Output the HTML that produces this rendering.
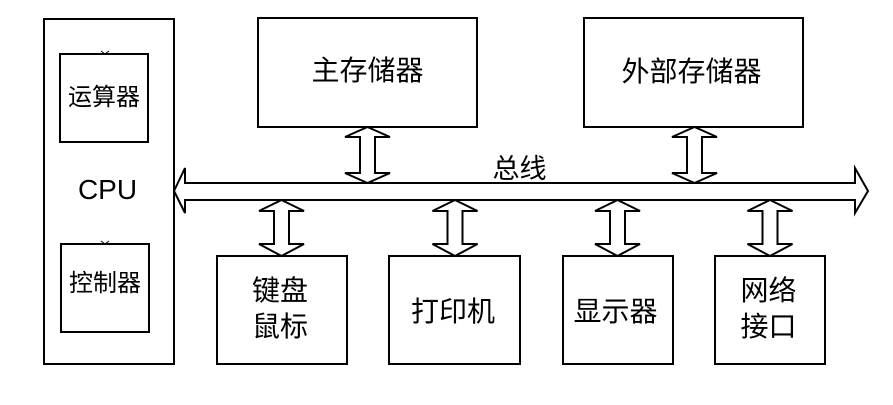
<!DOCTYPE html>
<html>
<head>
<meta charset="utf-8">
<style>
  html,body{margin:0;padding:0;background:#fff;}
  svg{display:block;}
  .cjk{font-family:"Liberation Sans","Noto Sans CJK SC","WenQuanYi Zen Hei",sans-serif;fill:#000;}
</style>
</head>
<body>
<svg width="893" height="405" viewBox="0 0 893 405" xmlns="http://www.w3.org/2000/svg">
  <rect x="0" y="0" width="893" height="405" fill="#fff"/>
  <g fill="#fff" stroke="#000" stroke-width="2">
    <!-- CPU -->
    <rect x="44" y="19" width="130" height="345"/>
    <rect x="60" y="54" width="88" height="88"/>
    <rect x="61" y="244" width="88" height="88"/>
    <!-- top boxes -->
    <rect x="258" y="18" width="219" height="109"/>
    <rect x="584" y="18" width="219" height="109"/>
    <!-- bottom boxes -->
    <rect x="217" y="256" width="130" height="108"/>
    <rect x="389" y="256" width="131" height="108"/>
    <rect x="563" y="256" width="110" height="108"/>
    <rect x="715" y="256" width="110" height="108"/>
    <!-- bus -->
    <polygon points="174,191 185,168 185,183 855,183 855,168 868,191 855,213 855,200 185,200 185,213"/>
    <!-- top vertical arrows -->
    <polygon points="367.5,127 390,137 375,137 375,173 390,173 367.5,183 345,173 360,173 360,137 345,137"/>
    <polygon points="694.5,127 717,137 702,137 702,173 717,173 694.5,183 672,173 687,173 687,137 672,137"/>
    <!-- bottom vertical arrows -->
    <polygon points="281.5,200 304,211 289,211 289,244 304,244 281.5,256 259,244 274,244 274,211 259,211"/>
    <polygon points="455,200 477.5,211 462.5,211 462.5,244 477.5,244 455,256 432.5,244 447.5,244 447.5,211 432.5,211"/>
    <polygon points="617.5,200 640,211 625,211 625,244 640,244 617.5,256 595,244 610,244 610,211 595,211"/>
    <polygon points="770,200 792.5,211 777.5,211 777.5,244 792.5,244 770,256 747.5,244 762.5,244 762.5,211 747.5,211"/>
  </g>
  <!-- small marks on CPU sub-boxes -->
  <g stroke="#000" stroke-width="1">
    <line x1="101" y1="51" x2="105" y2="54"/><line x1="109" y1="51" x2="105" y2="54"/>
    <line x1="101" y1="241" x2="105" y2="244"/><line x1="109" y1="241" x2="105" y2="244"/>
  </g>
  <g class="cjk" text-anchor="middle">
    <text x="367.5" y="80" font-size="28">主存储器</text>
    <text x="691.5" y="81" font-size="28">外部存储器</text>
    <text x="104" y="105" font-size="24">运算器</text>
    <text x="105" y="291" font-size="24">控制器</text>
    <text x="519.5" y="178" font-size="27">总线</text>
    <text x="280" y="300" font-size="28">键盘</text>
    <text x="280" y="336" font-size="28">鼠标</text>
    <text x="453" y="321" font-size="28">打印机</text>
    <text x="615.5" y="321" font-size="28">显示器</text>
    <text x="768.5" y="300" font-size="28">网络</text>
    <text x="768.5" y="336" font-size="28">接口</text>
  </g>
  <text x="107.5" y="199" font-size="28" text-anchor="middle" font-family="Liberation Sans, sans-serif" fill="#000">CPU</text>
</svg>
</body>
</html>
